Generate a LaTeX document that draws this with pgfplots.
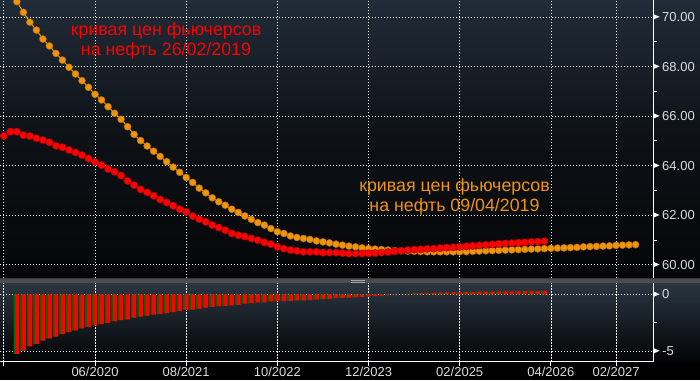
\documentclass[border=0pt]{standalone}
\usepackage{fontspec}
\setmainfont{Liberation Sans}
\usepackage{pgfplots}
\usepackage{pgfplotstable}
\pgfplotsset{compat=1.18}
\definecolor{bgtop}{RGB}{33,44,56}
\definecolor{bgmid}{RGB}{13,17,22}
\definecolor{bgbot}{RGB}{5,6,8}
\definecolor{lowtop}{RGB}{42,54,66}
\definecolor{lowbot}{RGB}{3,4,5}
\definecolor{band}{RGB}{78,78,78}
\definecolor{orng}{RGB}{240,148,12}
\definecolor{rd}{RGB}{255,0,0}
\definecolor{dkgreen}{RGB}{0,105,0}
\definecolor{ticktxt}{RGB}{220,220,220}
\newcommand{\tri}{\tikz[baseline=0pt]\fill[white] (0,1.9pt) -- (6.5pt,4.65pt) -- (0,7.4pt) -- cycle;}

\pgfplotstableread{
m v
-14 65.20
-13 65.37
-12 65.37
-11 65.23
-10 65.19
-9 65.10
-8 65.03
-7 64.94
-6 64.80
-5 64.74
-4 64.63
-3 64.53
-2 64.42
-1 64.29
0 64.15
1 64.02
2 63.86
3 63.75
4 63.60
5 63.38
6 63.21
7 63.04
8 62.92
9 62.78
10 62.63
11 62.51
12 62.38
13 62.24
14 62.13
15 61.96
16 61.84
17 61.73
18 61.60
19 61.50
20 61.39
21 61.26
22 61.19
23 61.14
24 61.06
25 60.99
26 60.90
27 60.83
28 60.72
29 60.65
30 60.59
31 60.56
32 60.52
33 60.52
34 60.52
35 60.49
36 60.49
37 60.49
38 60.47
39 60.45
40 60.45
41 60.45
42 60.46
43 60.47
44 60.49
45 60.51
46 60.54
47 60.56
48 60.59
49 60.61
50 60.62
51 60.64
52 60.65
53 60.67
54 60.69
55 60.70
56 60.72
57 60.74
58 60.76
59 60.78
60 60.80
61 60.82
62 60.84
63 60.86
64 60.87
65 60.89
66 60.90
67 60.92
68 60.93
69 60.95
}\redcurve

\pgfplotstableread{
m v
-12 70.62
-11 70.19
-10 69.79
-9 69.47
-8 69.11
-7 68.83
-6 68.53
-5 68.26
-4 67.97
-3 67.70
-2 67.43
-1 67.16
0 66.88
1 66.65
2 66.38
3 66.11
4 65.87
5 65.57
6 65.26
7 65.01
8 64.79
9 64.58
10 64.37
11 64.16
12 63.94
13 63.73
14 63.52
15 63.32
16 63.09
17 62.90
18 62.70
19 62.54
20 62.40
21 62.24
22 62.11
23 61.97
24 61.83
25 61.70
26 61.60
27 61.46
28 61.33
29 61.26
30 61.16
31 61.10
32 61.06
33 61.02
34 60.96
35 60.92
36 60.88
37 60.83
38 60.79
39 60.75
40 60.72
41 60.68
42 60.65
43 60.63
44 60.61
45 60.59
46 60.57
47 60.56
48 60.55
49 60.54
50 60.53
51 60.52
52 60.52
53 60.52
54 60.52
55 60.52
56 60.52
57 60.53
58 60.54
59 60.55
60 60.56
61 60.57
62 60.58
63 60.59
64 60.60
65 60.61
66 60.62
67 60.63
68 60.64
69 60.65
70 60.66
71 60.67
72 60.68
73 60.69
74 60.70
75 60.72
76 60.73
77 60.74
78 60.75
79 60.76
80 60.78
81 60.79
82 60.80
83 60.81
}\orangecurve

\pgfplotstableread{
m d
-12 -5.25
-11 -4.96
-10 -4.60
-9 -4.37
-8 -4.08
-7 -3.89
-6 -3.73
-5 -3.52
-4 -3.34
-3 -3.17
-2 -3.01
-1 -2.87
0 -2.73
1 -2.63
2 -2.52
3 -2.36
4 -2.27
5 -2.20
6 -2.05
7 -1.97
8 -1.87
9 -1.80
10 -1.74
11 -1.65
12 -1.56
13 -1.49
14 -1.39
15 -1.36
16 -1.25
17 -1.17
18 -1.10
19 -1.04
20 -1.01
21 -0.98
22 -0.92
23 -0.83
24 -0.77
25 -0.71
26 -0.70
27 -0.63
28 -0.61
29 -0.61
30 -0.57
31 -0.54
32 -0.54
33 -0.50
34 -0.44
35 -0.43
36 -0.39
37 -0.34
38 -0.32
39 -0.30
40 -0.27
41 -0.23
42 -0.19
43 -0.16
44 -0.12
45 -0.08
46 -0.03
47 0.00
48 0.04
49 0.07
50 0.09
51 0.12
52 0.13
53 0.15
54 0.17
55 0.18
56 0.20
57 0.21
58 0.22
59 0.23
60 0.24
61 0.25
62 0.26
63 0.27
64 0.27
65 0.28
66 0.28
67 0.29
68 0.29
69 0.30
}\diffbars

\begin{document}
\begin{tikzpicture}
\path[use as bounding box, fill=black] (0,0) rectangle (700pt,380pt);
\shade[top color=bgtop, bottom color=bgbot, middle color=bgmid] (0,102pt) rectangle (700pt,380pt);
\shade[top color=lowtop, bottom color=lowbot] (0,18.5pt) rectangle (700pt,97pt);
\fill[band] (0,97pt) rectangle (700pt,102pt);
\draw[black!80, line width=0.6pt] (0,101.7pt) -- (700pt,101.7pt);
\draw[gray!70, line width=0.6pt] (351pt,99.5pt) -- (365pt,99.5pt);
\draw[gray!70, line width=0.6pt] (351pt,97.6pt) -- (365pt,97.6pt);

\begin{axis}[
  at={(0pt,102pt)}, anchor=south west,
  scale only axis, width=653pt, height=278pt,
  xmin=-14.59, xmax=85.68, ymin=59.463, ymax=70.686,
  axis y line*=right, axis x line*=bottom,
  x axis line style={draw=none},
  y axis line style={white, line width=1pt},
  xtick={-14,0,14,28,42,56,70,80}, xticklabels={},
  xtick style={draw=none},
  ytick={60,62,...,70}, minor ytick={61,63,...,69},
  tick align=outside, major tick length=4pt, minor tick length=4pt,
  ytick style={white, line width=0.8pt},
  grid=major,
  major grid style={white, line width=0.7pt, dash pattern=on 1.4pt off 1.6pt},
  /pgf/number format/assume math mode=true,
  /pgf/number format/.cd, fixed, fixed zerofill, precision=2, /pgfplots/.cd,
  yticklabel={\tri\hspace{2.5pt}\pgfmathprintnumber{\tick}},
  yticklabel style={anchor=west, inner sep=0pt, xshift=-4pt, text=ticktxt, font=\fontsize{13}{15}\selectfont},
  clip marker paths=true,
]
\addplot[orng, line width=1pt, mark=*, mark size=3.5pt, mark options={fill=orng, draw=orng!75!black, line width=0.4pt}] table[x=m, y=v] {\orangecurve};
\addplot[rd, line width=1pt, mark=*, mark size=3.7pt, mark options={fill=rd, draw=rd!65!black, line width=0.4pt}] table[x=m, y=v] {\redcurve};
\node[text=rd, font=\fontsize{17.8}{21}\selectfont, anchor=base] at (axis cs:10.9,69.27) {кривая цен фьючерсов};
\node[text=rd, font=\fontsize{17.8}{21}\selectfont, anchor=base] at (axis cs:10.9,68.44) {на нефть 26/02/2019};
\node[text=orng, font=\fontsize{17.8}{21}\selectfont, anchor=base] at (axis cs:55.2,62.94) {кривая цен фьючерсов};
\node[text=orng, font=\fontsize{17.8}{21}\selectfont, anchor=base] at (axis cs:55.2,62.13) {на нефть 09/04/2019};
\end{axis}

\begin{axis}[
  at={(0pt,18.5pt)}, anchor=south west,
  scale only axis, width=653pt, height=78.5pt,
  xmin=-14.59, xmax=85.68, ymin=-5.926, ymax=1.0,
  axis y line*=right, axis x line*=bottom,
  x axis line style={white, line width=1pt},
  y axis line style={white, line width=1pt},
  xtick={-14,0,14,28,42,56,70,80},
  xticklabels={,06/2020,08/2021,10/2022,12/2023,02/2025,04/2026,02/2027},
  ytick={-5,0}, minor ytick={-2.5},
  tick align=outside, major tick length=4pt, minor tick length=4pt,
  tick style={white, line width=0.8pt},
  grid=major,
  major grid style={white, line width=0.7pt, dash pattern=on 1.4pt off 1.6pt},
  /pgf/number format/assume math mode=true,
  yticklabel={\tri\hspace{2.5pt}\pgfmathprintnumber{\tick}},
  yticklabel style={anchor=west, inner sep=0pt, xshift=-4pt, text=ticktxt, font=\fontsize{13}{15}\selectfont},
  xticklabel style={anchor=north, inner sep=0pt, yshift=-1pt, text=ticktxt, font=\fontsize{13}{15}\selectfont},
]
\addplot[ybar, bar width=5pt, bar shift=-0.8pt, fill=dkgreen, draw=none] table[x=m, y=d] {\diffbars};
\addplot[ybar, bar width=4pt, bar shift=0.4pt, fill=rd, draw=none] table[x=m, y=d] {\diffbars};
\end{axis}
\end{tikzpicture}
\end{document}
